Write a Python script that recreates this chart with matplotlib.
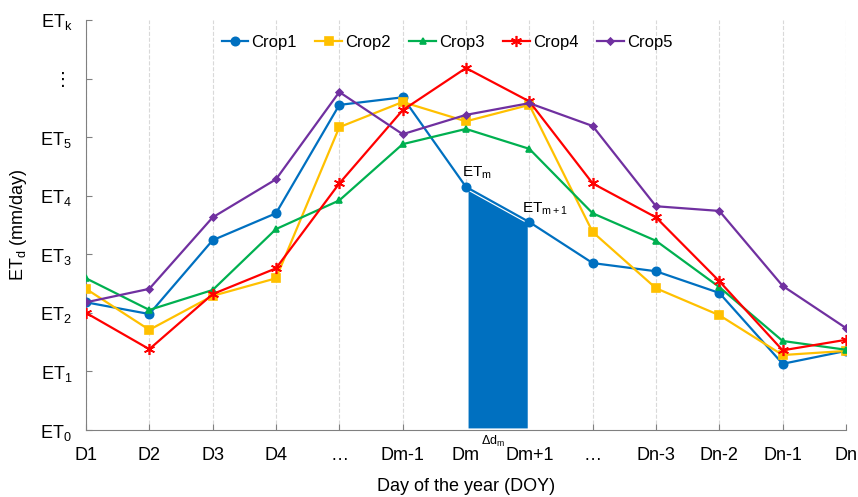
"""Daily ET curves for five crops with the trapezoid between Dm and Dm+1."""

import numpy as np
from matplotlib import pyplot as plt
from matplotlib import rc

rc('font', family=['Liberation Sans', 'DejaVu Sans'], size=13)
rc('mathtext', fontset='custom', rm='Liberation Sans', it='Liberation Sans')

days = ['D1', 'D2', 'D3', 'D4', '…', 'Dm-1', 'Dm', 'Dm+1', '…',
        'Dn-3', 'Dn-2', 'Dn-1', 'Dn']
crop1 = [2.18, 1.98, 3.24, 3.70, 5.55, 5.68, 4.15, 3.55, 2.85, 2.71, 2.34, 1.13, 1.35]
crop2 = [2.41, 1.71, 2.29, 2.59, 5.17, 5.60, 5.27, 5.55, 3.38, 2.42, 1.96, 1.28, 1.35]
crop3 = [2.59, 2.05, 2.39, 3.43, 3.92, 4.88, 5.14, 4.80, 3.70, 3.23, 2.44, 1.52, 1.37]
crop4 = [2.00, 1.38, 2.32, 2.76, 4.21, 5.46, 6.18, 5.61, 4.21, 3.63, 2.54, 1.36, 1.54]
crop5 = [2.18, 2.41, 3.63, 4.28, 5.77, 5.05, 5.38, 5.58, 5.19, 3.82, 3.74, 2.46, 1.74]
ylabels = ['ET$_0$', 'ET$_1$', 'ET$_2$', 'ET$_3$', 'ET$_4$', 'ET$_5$', '⋮', 'ET$_k$']
m = 6  # index of Dm

series = [
    ('Crop1', crop1, '#0070C0', 'o', 6),
    ('Crop2', crop2, '#FFC000', 's', 6),
    ('Crop3', crop3, '#00B050', '^', 5),
    ('Crop4', crop4, '#FF0000', (6, 2, 0), 8),
    ('Crop5', crop5, '#7030A0', 'D', 3.5),
]

fig = plt.figure(figsize=(8.58, 4.97), dpi=100)
ax = fig.add_axes([0.1002, 0.1348, 0.8858, 0.825])
x = np.arange(len(days))

ax.fill_between(x[m:m + 2], 0, crop1[m:m + 2], facecolor='#0070C0',
                edgecolor='white', linewidth=3, zorder=2)
for name, vals, col, mk, ms in series:
    ax.plot(x, vals, color=col, marker=mk, markersize=ms, linewidth=1.6,
            markeredgewidth=1.2, label=name, zorder=3)

ax.text(x[m] - 0.06, crop1[m] + 0.18, 'ET$_\\mathregular{m}$', fontsize=11)
ax.text(x[m + 1] - 0.12, crop1[m + 1] + 0.16, 'ET$_\\mathregular{m+1}$', fontsize=11)
ax.text(x[m] + 0.42, -0.07, 'Δd$_\\mathregular{m}$', fontsize=9,
        ha='center', va='top', clip_on=False)

ax.set_xlim(0, len(days) - 1)
ax.set_ylim(0, 7)
ax.set_xticks(x)
ax.set_xticklabels(days)
ax.set_yticks(np.arange(8))
ax.set_yticklabels(ylabels)
ax.tick_params(direction='in', length=4, color='#808080', pad=10)
ax.tick_params(axis='x', pad=12)
ax.xaxis.grid(True, linestyle='--', color='#D9D9D9', linewidth=0.8)
for s in ['top', 'right']:
    ax.spines[s].set_visible(False)
for s in ['left', 'bottom']:
    ax.spines[s].set_color('#808080')
ax.set_axisbelow(True)

ax.set_xlabel('Day of the year (DOY)', labelpad=10)
ax.set_ylabel('ET$_\\mathregular{d}$ (mm/day)', labelpad=8)
ax.legend(loc='upper center', bbox_to_anchor=(0.475, 1.0), ncol=5, frameon=False,
          fontsize=12, handlelength=1.6, columnspacing=1.1, handletextpad=0.2)

fig.savefig('out.png', dpi=100)
